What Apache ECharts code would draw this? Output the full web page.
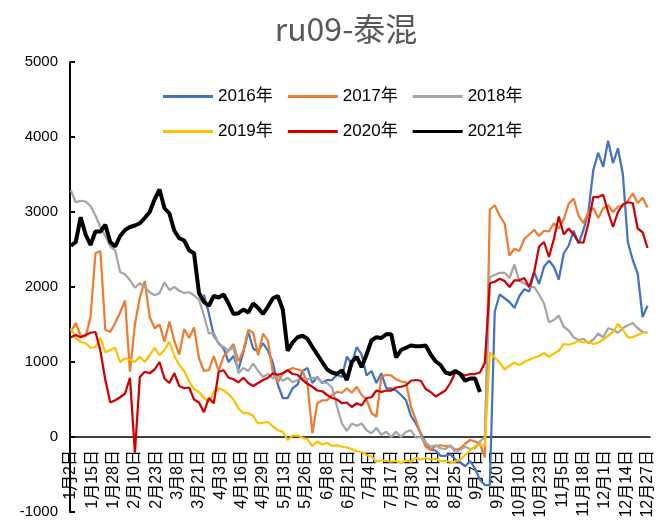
<!DOCTYPE html>
<html>
<head>
<meta charset="utf-8">
<title>ru09-泰混</title>
<script src="https://cdn.jsdelivr.net/npm/echarts@6/dist/echarts.min.js"></script>
<style>
  html, body { margin: 0; padding: 0; background: #fff; }
  #chart { width: 661px; height: 530px; }
</style>
</head>
<body>
<div id="chart"></div>
<script>
// 日期轴：1月2日 ~ 12月28日，逐日，跳过5月1日和国庆假期
const skipDays = ['1月1日', '5月1日', '10月1日', '10月2日', '10月3日', '10月4日', '10月5日', '10月6日', '10月7日'];
const monthDays = [31, 28, 31, 30, 31, 30, 31, 31, 30, 31, 30, 31];
const categories = [];
for (let m = 1; m <= 12; m++) {
    for (let d = 1; d <= monthDays[m - 1]; d++) {
        const s = m + '月' + d + '日';
        if (skipDays.includes(s) || (m === 12 && d > 28)) continue;
        categories.push(s);
    }
}

// 每隔 step 个日期取一个点
const step = 3;
const years = ['2016年', '2017年', '2018年', '2019年', '2020年', '2021年'];
const colors = ['#4472C4', '#ED7D31', '#A5A5A5', '#FFC000', '#D00000', '#000000'];

const s2016 = [null, null, null, null, null, null, null, null, null, null,
    null, null, null, null, null, null, null, null, null, null,
    null, null, null, null, null, null, null,
    1900, 1650, 1350, 1250, 1180, 1000, 1080, 900, 1130, 1400,
    1180, 1140, 1250, 1150, 990, 700, 520, 520, 650, 700,
    880, 920, 720, 800, 720, 760, 760, 830, 800, 1070,
    980, 1200, 1100, 820, 880, 720, 850, 650, 650, 620,
    560, 490, 280, 180, 50, -80, -170, -180, -250, -250,
    -230, -300, -340, -390, -320, -420, -570, -640, -640, 1670,
    1900, 1850, 1800, 1720, 1880, 1970, 1940, 2200, 2040, 2270,
    2350, 2270, 2100, 2450, 2550, 2750, 2580, 2760, 3000, 3560,
    3790, 3600, 3950, 3650, 3850, 3500, 2600, 2360, 2180, 1600,
    1750];

const s2017 = [1400, 1520, 1350, 1340, 1600, 2450, 2480, 1430, 1400, 1520,
    1660, 1820, 870, 1500, 1860, 2080, 1600, 1450, 1500, 1270,
    1540, 1280, 1100, 1440, 1320, 1460, 1050, 880, 890, 1080,
    880, 1080, 1150, 1240, 1010, 1150, 1430, 1390, 1090, 1380,
    1280, 850, 730, 850, 890, 920, 900, 880, 720, 50,
    450, 490, 490, 560, 600, 590, 650, 590, 670, 560,
    500, 320, 270, 800, 830, 820, 770, 740, 730, 400,
    230, 30, -130, -170, -120, -110, -120, -120, -170, -150,
    -90, -40, -60, -90, -270, 3030, 3090, 2950, 2850, 2420,
    2510, 2480, 2640, 2700, 2760, 2680, 2750, 2740, 2850, 2780,
    2900, 3110, 3180, 2950, 2850, 3000, 3050, 2920, 3050, 3090,
    3000, 3070, 3090, 3150, 3250, 3120, 3190, 3060];

const s2018 = [3290, 3130, 3150, 3140, 3080, 2950, 2800, 2680, 2540, 2490,
    2200, 2170, 2090, 1990, 2050, 2000, 1930, 1890, 1920, 2060,
    1960, 2000, 1950, 1920, 1930, 1890, 1830, 1620, 1380, 1390,
    1240, 1200, 1150, 1200, 850, 920, 880, 980, 880, 800,
    840, 780, 820, 750, 790, 730, 760, 790, 770, 790,
    790, 730, 720, 660, 410, 180, 80, 180, 150, 180,
    90, 50, 120, 30, 70, 0, 70, 0, 70, 90,
    -10, 0, -80, -130, -110, -150, -160, -110, -200, -170,
    -130, -160, -150, -60, 0, 2130, 2160, 2190, 2190, 2120,
    2300, 2080, 2050, 2000, 2000, 1900, 1780, 1530, 1560, 1620,
    1470, 1420, 1330, 1290, 1310, 1250, 1300, 1380, 1330, 1450,
    1430, 1390, 1450, 1490, 1520, 1450, 1400, 1390];

const s2019 = [1450, 1320, 1270, 1250, 1190, 1200, 1320, 1130, 1160, 1190,
    1000, 1050, 1030, 1000, 1070, 1000, 1090, 1190, 1090, 1160,
    1270, 1080, 960, 880, 740, 640, 600, 520, 470, 600,
    650, 620, 570, 500, 380, 320, 320, 280, 180, 190,
    200, 140, 90, 70, -40, 20, 20, -10, -30, -120,
    -60, -100, -80, -120, -110, -130, -140, -160, -190, -200,
    -240, -260, -330, -310, -320, -330, -320, -350, -310, -330,
    -280, -300, -280, -300, -290, -320, -320, -330, -330, -300,
    -240, -180, -120, -110, -110, 1130, 1060, 990, 900, 950,
    990, 960, 1000, 1030, 1060, 1080, 1120, 1070, 1110, 1150,
    1240, 1230, 1250, 1280, 1260, 1270, 1240, 1260, 1300, 1350,
    1400, 1510, 1430, 1330, 1330, 1360, 1390, 1400];

const s2020 = [1330, 1360, 1330, 1360, 1390, 1400, 1150, 760, 460, 490,
    530, 580, 790, -210, 800, 870, 850, 900, 1000, 780,
    720, 850, 680, 650, 660, 500, 460, 330, 520, 450,
    870, 890, 790, 770, 730, 790, 720, 680, 720, 760,
    790, 850, 830, 850, 890, 840, 830, 760, 710, 670,
    620, 610, 560, 520, 500, 450, 460, 400, 450, 420,
    520, 530, 620, 600, 620, 620, 660, 670, 690, 750,
    760, 750, 640, 600, 540, 580, 620, 720, 860, 850,
    820, 840, 840, 860, 990, 2050, 2070, 2110, 2080, 2000,
    2090, 2090, 2120, 2000, 2200, 2540, 2600, 2400, 2640, 2940,
    2700, 2780, 2700, 2600, 2590, 2850, 3200, 3200, 3230, 3000,
    2800, 3000, 3100, 3130, 3120, 2780, 2730, 2520];

const s2021 = [2550, 2600, 2930, 2700, 2560, 2740, 2740, 2830, 2600, 2540,
    2680, 2760, 2800, 2820, 2850, 2920, 3000, 3170, 3300, 3050,
    2980, 2750, 2650, 2620, 2490, 2450, 1920, 1800, 1750, 1880,
    1860, 1900, 1780, 1640, 1650, 1700, 1660, 1780, 1720, 1640,
    1740, 1850, 1880, 1700, 1150, 1260, 1330, 1350, 1310, 1200,
    1100, 1000, 900, 860, 840, 890, 760, 1000, 1070, 930,
    1100, 1290, 1330, 1320, 1370, 1370, 1060, 1160, 1190, 1220,
    1210, 1210, 1220, 1100, 1010, 960, 860, 840, 880, 840,
    750, 780, 780, 600];

const seriesValues = [s2016, s2017, s2018, s2019, s2020, s2021];

const font = '"Liberation Sans", "Noto Sans CJK SC", sans-serif';

// 图例分两行，每行三个
const legendRow = (names, top) => ({
    data: names,
    icon: 'rect',
    left: 158,
    top: top,
    itemWidth: 50,
    itemHeight: 3,
    itemGap: 15,
    textStyle: {fontSize: 17, color: '#000', fontFamily: font}
});

// 0 值线距离绘图区底部 75px（y 轴 -1000~5000 共 450px）
const zeroOffset = -75;

let myChart = echarts.init(document.getElementById('chart'));
myChart.setOption({
    animation: false,
    backgroundColor: '#fff',
    title: {
        text: 'ru09-泰混',
        left: 341,
        top: 8,
        textAlign: 'center',
        textStyle: {
            fontSize: 32,
            fontWeight: 'normal',
            color: '#595959',
            fontFamily: '"Noto Sans CJK SC", sans-serif'
        }
    },
    legend: [legendRow(years.slice(0, 3), 83), legendRow(years.slice(3), 118)],
    grid: {left: 70, right: 11, top: 62, bottom: 18, outerBoundsMode: 'none'},
    xAxis: {
        type: 'category',
        data: categories,
        boundaryGap: true,
        offset: zeroOffset,
        axisLine: {onZero: false, lineStyle: {color: '#000', width: 1.5}},
        axisTick: {show: false},
        axisLabel: {
            interval: 12,
            rotate: 90,
            margin: 13,
            fontSize: 16,
            color: '#000',
            fontFamily: font
        },
        splitLine: {show: false}
    },
    yAxis: {
        type: 'value',
        min: -1000,
        max: 5000,
        interval: 1000,
        axisLine: {show: true, lineStyle: {color: '#000', width: 2}},
        axisTick: {show: true, inside: true, length: 5, lineStyle: {color: '#000', width: 2}},
        axisLabel: {
            fontSize: 15,
            color: '#000',
            margin: 12,
            fontFamily: font,
            formatter: v => String(v)
        },
        splitLine: {show: false}
    },
    series: years.map((name, i) => ({
        name: name,
        type: 'line',
        symbol: 'none',
        color: colors[i],
        lineStyle: {width: i === 5 ? 4 : 2.25, color: colors[i]},
        data: seriesValues[i]
            .map((v, k) => v === null ? null : [k * step, v])
            .filter(p => p !== null)
    }))
});
</script>
</body>
</html>
